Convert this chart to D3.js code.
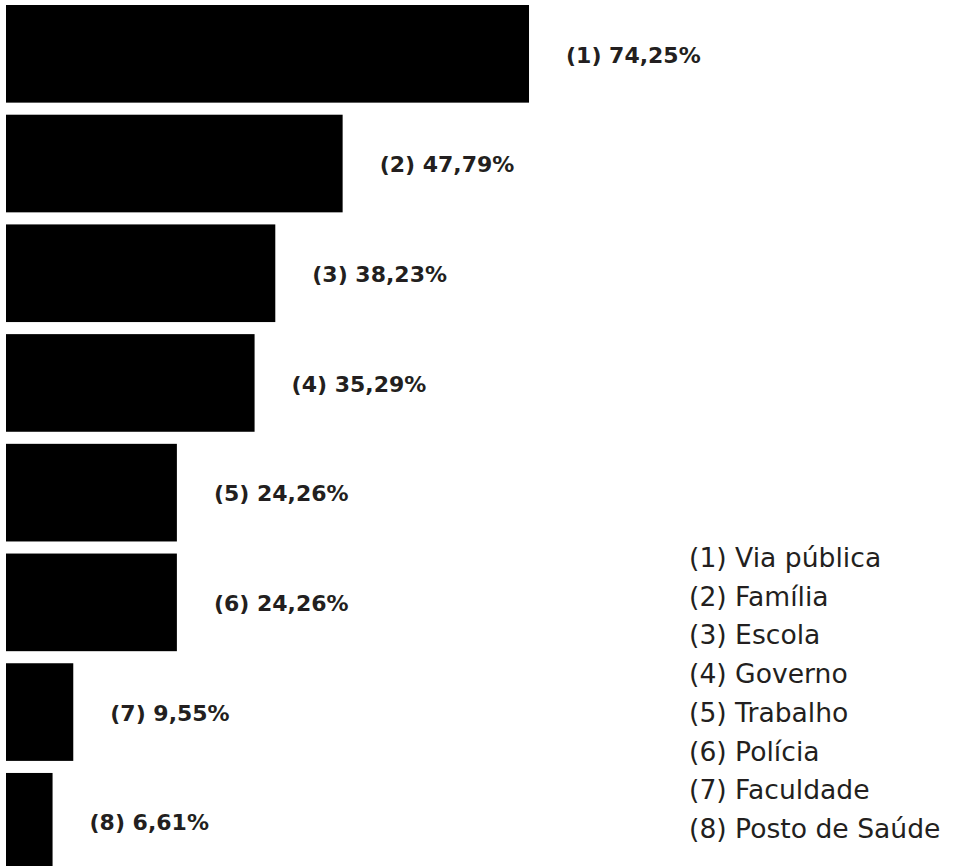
<!DOCTYPE html>
<html><head><meta charset="utf-8">
<script src="https://cdn.jsdelivr.net/npm/d3@7"></script>
<style>html,body{margin:0;padding:0;background:#fff;overflow:hidden}</style>
</head><body>
<svg id="c" width="955" height="866"></svg>
<script>
const ids = ["1","2","3","4","5","6","7","8"];
const values = [74.25, 47.79, 38.23, 35.29, 24.26, 24.26, 9.55, 6.61];
const valueLabels = ["74,25%","47,79%","38,23%","35,29%","24,26%","24,26%","9,55%","6,61%"];
const categories = ["Via pública","Família","Escola","Governo","Trabalho","Polícia","Faculdade","Posto de Saúde"];

const svg = d3.select("#c");
const x = d3.scaleLinear().domain([0, 100]).range([6, 6 + 704.4]);
const y = d3.scaleBand().domain(ids).range([5, 5 + 8 * 109.7 - 12]).paddingInner(0.11).paddingOuter(0);

svg.selectAll("rect.bar").data(ids).join("rect")
  .attr("class", "bar")
  .attr("x", x(0))
  .attr("y", d => y(d))
  .attr("width", (d, i) => x(values[i]) - x(0))
  .attr("height", y.bandwidth())
  .attr("fill", "#000");

svg.selectAll("text.val").data(ids).join("text")
  .attr("class", "val")
  .attr("x", (d, i) => x(values[i]) + 37)
  .attr("y", d => y(d) + y.bandwidth() / 2 + 1)
  .attr("dy", "0.35em")
  .attr("font-family", "'DejaVu Sans', sans-serif")
  .attr("font-weight", 700)
  .attr("font-size", 22)
  .attr("fill", "#231f20")
  .text((d, i) => `(${d}) ${valueLabels[i]}`);

const leg = svg.append("g");
leg.selectAll("text").data(ids).join("text")
  .attr("x", 689)
  .attr("y", (d, i) => 567 + i * 38.7)
  .attr("font-family", "'DejaVu Sans', sans-serif")
  .attr("font-size", 26.6)
  .attr("fill", "#231f20")
  .text((d, i) => `(${d}) ${categories[i]}`);
</script>
</body></html>
